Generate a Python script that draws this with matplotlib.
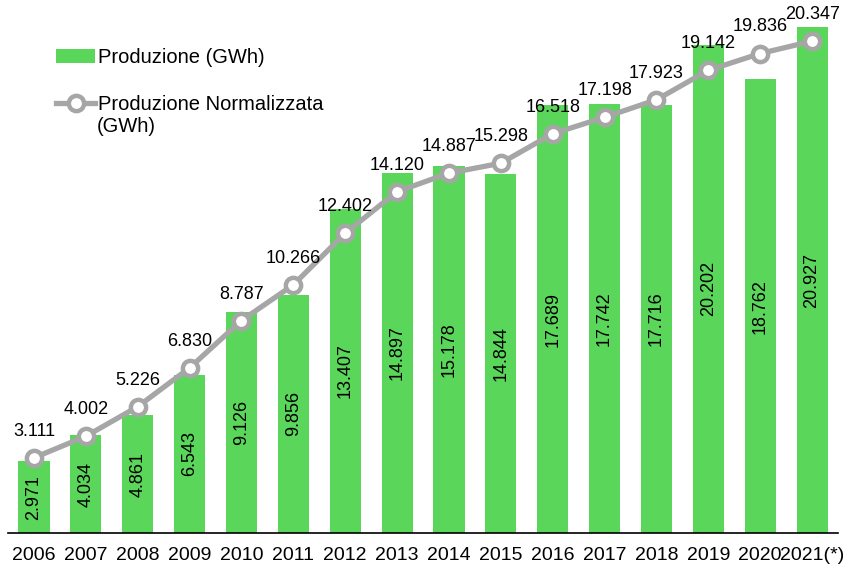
import numpy as np
from matplotlib import pyplot as plt

plt.rcParams['font.family'] = ['Liberation Sans', 'DejaVu Sans']

anni = ["2006", "2007", "2008", "2009", "2010", "2011", "2012", "2013",
        "2014", "2015", "2016", "2017", "2018", "2019", "2020", "2021(*)"]
produzione = [2.971, 4.034, 4.861, 6.543, 9.126, 9.856, 13.407, 14.897,
              15.178, 14.844, 17.689, 17.742, 17.716, 20.202, 18.762, 20.927]
normalizzata = [3.111, 4.002, 5.226, 6.830, 8.787, 10.266, 12.402, 14.120,
                14.887, 15.298, 16.518, 17.198, 17.923, 19.142, 19.836, 20.347]

def fmt(v):
    return f"{v:.3f}"

verde = "#5AD65A"
grigio = "#A6A6A6"

fig = plt.figure(figsize=(8.46, 5.7), dpi=100)
ax = fig.add_axes([8/846, 37/570, 830/846, 533/570])

x = np.arange(len(anni))
barre = ax.bar(x, produzione, width=0.6, color=verde, zorder=1)
linea, = ax.plot(x, normalizzata, color=grigio, linewidth=3.8, marker='o', markersize=11,
                 markerfacecolor='white', markeredgecolor=grigio, markeredgewidth=3.2,
                 zorder=3)

for xi, v in zip(x, produzione):
    ax.text(xi, v / 2, fmt(v), rotation=90, ha='center', va='center', fontsize=13, zorder=2)
for xi, v in zip(x, normalizzata):
    ax.annotate(fmt(v), (xi, v), xytext=(0, 13), textcoords='offset points',
                ha='center', va='bottom', fontsize=13, zorder=4)

ax.set_xlim(-0.5, 15.5)
ax.set_ylim(0, 22.05)
ax.set_xticks(x)
ax.set_xticklabels(anni, fontsize=14)
ax.tick_params(axis='x', length=0, pad=10)
ax.set_yticks([])
for s in ['top', 'right', 'left']:
    ax.spines[s].set_visible(False)
ax.spines['bottom'].set_color('black')
ax.spines['bottom'].set_linewidth(1.2)

fig.legend([barre, linea], ["Produzione (GWh)", "Produzione Normalizzata"],
           loc='upper left', bbox_to_anchor=(56/846, 1 - 48/570), bbox_transform=fig.transFigure,
           frameon=False, fontsize=14.5, handlelength=1.95, handletextpad=0.12,
           labelspacing=1.4, borderpad=0, borderaxespad=0)
fig.text(97/846, 1 - 126/570, "(GWh)", fontsize=14.5, ha='left', va='center')

fig.savefig("out.png", dpi=100)
